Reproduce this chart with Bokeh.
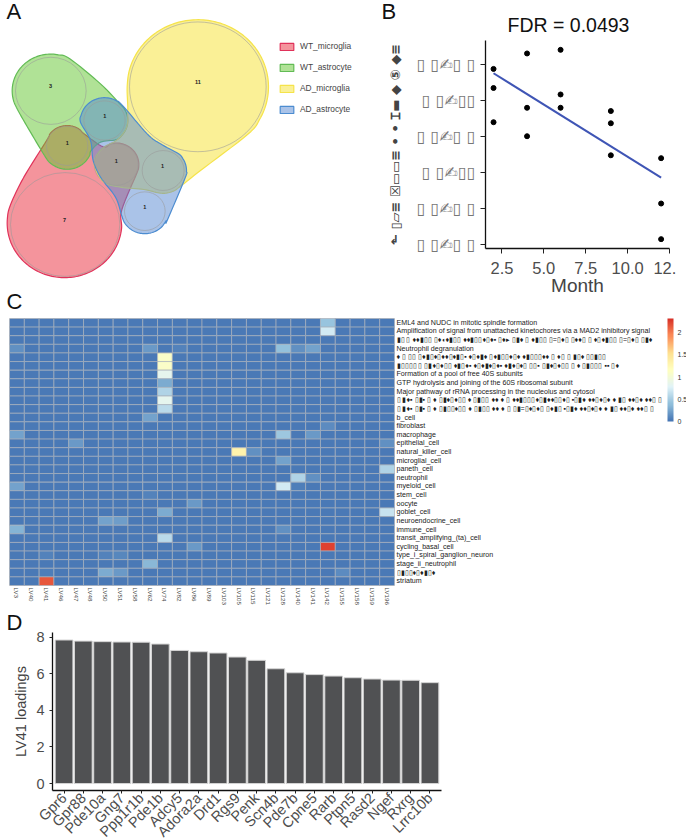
from math import pi, cos, sin, radians
from bokeh.plotting import figure
from bokeh.layouts import column, row
from bokeh.models import (ColumnDataSource, Label, Legend, LegendItem, LinearColorMapper, ColorBar,
                          FactorRange, Range1d, FixedTicker, Title)
from bokeh.core.properties import value
from bokeh.transform import transform
from bokeh.embed import file_html
from bokeh.resources import INLINE

FONT = "Liberation Sans"
SQUASH = 0.95

def arc(cx, cy, rx, a0, a1, n=9):
    return [(cx + rx * cos(radians(a0 + (a1 - a0) * i / n)), cy + SQUASH * rx * sin(radians(a0 + (a1 - a0) * i / n))) for i in range(n + 1)]

# ---------- Panel A: overlap diagram ----------
set_names = ["WT_microglia", "WT_astrocyte", "AD_microglia", "AD_astrocyte"]
set_fill = ["#e92939", "#61c52d", "#f5e12d", "#5587d1"]
set_line = ["#e0325a", "#62bb55", "#f5e34a", "#4c8cd0"]
outline_red = arc(192, 668, 172, -10, 200, 14) + [(70, 530)] + arc(200, 436, 64, 195, 325, 6) + arc(347, 492, 68, 235, 385, 7) + [(378, 590)]
outline_green = arc(151, 271, 116, 150, 300, 8) + [(300, 250)] + arc(312, 360, 70, -50, 60, 6) + [(300, 425), (272, 450)] + arc(200, 436, 74, 25, 150, 6) + [(90, 395)]
outline_yellow = arc(592, 259, 212, 180, 405, 14) + [(600, 510), (552, 548)] + arc(488, 510, 72, 40, 100, 3) + [(430, 567), (360, 560), (310, 545), (283, 500), (285, 470), (310, 440), (350, 418), (378, 380), (382, 330)]
outline_blue = arc(312, 360, 72, 175, 320, 7) + [(440, 400), (480, 430)] + arc(488, 510, 70, -50, 20, 4) + [(500, 660)] + arc(433, 632, 71, 25, 170, 7) + [(345, 590), (300, 530), (278, 480), (270, 420)]
circle_x = [194, 151, 312, 200, 347, 488, 433, 592]
circle_y = [672, 271, 360, 436, 492, 510, 632, 259]
circle_r = [164, 106, 62, 62, 66, 63, 61, 205]
label_x = [192, 150, 313, 200, 347, 486, 433, 592]
label_y = [657, 257, 345, 428, 480, 495, 618, 245]
circle_n = ["7", "3", "1", "1", "1", "1", "1", "11"]

def smooth(pts, n=8):
    xs, ys = [], []
    m = len(pts)
    for i in range(m):
        p0, p1, p2, p3 = pts[i-1], pts[i], pts[(i+1) % m], pts[(i+2) % m]
        for k in range(n):
            t = k / n
            for arr, d in ((xs, 0), (ys, 1)):
                arr.append(0.5 * (2*p1[d] + (p2[d]-p0[d])*t + (2*p0[d]-5*p1[d]+4*p2[d]-p3[d])*t*t + (3*p1[d]-p0[d]-3*p2[d]+p3[d])*t**3))
    return xs, ys

pa = figure(frame_width=400, frame_height=640, x_range=Range1d(0, 1200), y_range=Range1d(1920, 0), output_backend="svg",
            toolbar_location=None, min_border=0, outline_line_color=None, border_fill_color=None, background_fill_color=None)
pa.axis.visible = False
pa.grid.visible = False
items = []
for name, f, l, o in zip(set_names, set_fill, set_line, [outline_red, outline_green, outline_yellow, outline_blue]):
    xs, ys = smooth(o)
    r = pa.patch(xs, ys, fill_color=f, fill_alpha=0.5, line_color=l, line_width=1.2)
    items.append(LegendItem(label=name, renderers=[r]))
pa.ellipse(circle_x, circle_y, width=[2 * v for v in circle_r], height=[2 * SQUASH * v for v in circle_r],
           fill_color=None, line_color="#999999", line_alpha=0.7, line_width=0.8)
pa.text(label_x, label_y, text=circle_n, text_font=value(FONT), text_font_size="5.5px", text_font_style="bold",
        text_align="center", text_baseline="middle", text_color="#222222")
leg = Legend(items=items, location=(278, 526), glyph_width=17, glyph_height=9, label_height=9, spacing=11,
             label_standoff=5, padding=0, margin=0, background_fill_alpha=0, border_line_color=None,
             label_text_font=FONT, label_text_font_size="8.4px", label_text_color="#444444")
pa.add_layout(leg)

# panel letters all sit in the first frame, which runs under the other panels
panel_letters = ["A", "B", "C", "D"]
letter_x = [18, 1143, 18, 18]
letter_y = [33, 33, 903, 1866]
for letter, x, y in zip(panel_letters, letter_x, letter_y):
    pa.add_layout(Label(x=x, y=y, text=letter, text_font=FONT, text_font_size="22px", text_color="#111111",
                        text_baseline="alphabetic"))

# ---------- Panel B: regression ----------
month = [2, 2, 2, 4, 4, 4, 6, 6, 6, 9, 9, 9, 12, 12, 12]
score = [4.88, 4.35, 3.40, 5.31, 3.80, 3.01, 5.41, 4.17, 3.80, 3.71, 3.37, 2.48, 2.40, 1.14, 0.15]
fit_month = [2, 12]
fit_score = [4.76, 1.86]
b_ticks = [0, 1, 2, 3, 4, 5]
b_tick_labels = ["▯ ▯✍▯ ▯", "▯ ▯✍▯ ▯", "▯ ▯✍▯▯", "▯ ▯✍▯ ▯", "▯ ▯✍▯▯", "▯ ▯✍▯ ▯"]
b_ylabel = "⬑ ▯▱≡ ☒▭▭≡ • • ⌶▬ ◆ ⑤ ◆≡"

pb = figure(frame_width=184, frame_height=208, x_range=Range1d(1.52, 12.5), y_range=Range1d(-0.11, 5.67),
            output_backend="svg", toolbar_location=None, outline_line_color=None, border_fill_color=None,
            background_fill_color=None, min_border_left=125, min_border_right=17, min_border_top=40, min_border_bottom=52)
pb.grid.visible = False
pb.scatter(month, score, size=5, color="black")
pb.line(fit_month, fit_score, line_color="#3f55b5", line_width=2)
pb.xaxis.ticker = FixedTicker(ticks=[2.5, 5, 7.5, 10, 12.5])
pb.xaxis.major_label_overrides = {2.5: "2.5", 5: "5.0", 7.5: "7.5", 10: "10.0", 12.5: "12.\u00a0\u00a0"}
pb.yaxis.ticker = FixedTicker(ticks=b_ticks)
pb.yaxis.major_label_overrides = dict(zip(b_ticks, b_tick_labels))
pb.yaxis.major_label_text_font = "DejaVu Sans"
pb.yaxis.major_label_text_font_size = "16px"
pb.yaxis.major_label_text_color = "#777777"
pb.xaxis.major_label_text_font = FONT
pb.xaxis.major_label_text_font_size = "16.5px"
pb.xaxis.major_label_text_color = "#4d4d4d"
pb.xaxis.major_label_standoff = 5
pb.axis.axis_line_width = 1.3
pb.axis.axis_line_color = "#111111"
pb.axis.major_tick_line_color = "#222222"
pb.axis.major_tick_out = 5
pb.axis.major_tick_in = 0
pb.axis.minor_tick_line_color = None
pb.xaxis.axis_label = "Month"
pb.xaxis.axis_label_text_font = FONT
pb.xaxis.axis_label_text_font_style = "normal"
pb.xaxis.axis_label_text_font_size = "19px"
pb.xaxis.axis_label_standoff = -5
pb.yaxis.axis_label = b_ylabel
pb.yaxis.axis_label_text_font = "DejaVu Sans"
pb.yaxis.axis_label_text_font_style = "bold"
pb.yaxis.axis_label_text_font_size = "13px"
pb.yaxis.axis_label_standoff = 11
pb.add_layout(Title(text="FDR = 0.0493", align="left", offset=22, text_font=FONT, text_font_style="normal",
                    text_font_size="19.5px", text_color="#111111"), "above")

# ---------- Panel C: heat map ----------
lv_names = ["LV3","LV40","LV41","LV46","LV47","LV48","LV50","LV51","LV58","LV62","LV74","LV82","LV86","LV89",
            "LV103","LV105","LV115","LV121","LV128","LV140","LV141","LV142","LV155","LV158","LV159","LV196"]
row_names = [
    "EML4 and NUDC in mitotic spindle formation",
    "Amplification  of signal from unattached  kinetochores via a MAD2  inhibitory signal",
    "▮▯ ▯ ♦♦▮▯▯ ▯♦◖♦▮▯▯ ♦♦▮▯▯♦▯♦▪ ▯♦▸ ▯▮♦ ▯ ♦▮▯▯ ▯=▯♦▯ ▯♦♦▯ ▯ ♦▯♦▮▯▯ ▯=▯♦▯ ▯▮♦",
    "Neutrophil degranulation",
    "♦ ▯ ▯▯ ▯♦▮▯♦▯♦♦▯♦▮▯▪ ♦▯♦▮♦ ▯♦▮▯▯♦▯♦ ♦▮▯▯▯♦♦ ▯ ♦▯ ▯ ▮▯♦ ▯▯▮▯▯",
    "▮▯▯▯▯ ▯ ▯▮♦▯♦▯▯ ♦▮▯♦▪ ♦▯♦▮♦▯♦▪ ♦▮♦▯♦▯ ▯▯▪ ▯▮♦▯♦▯▯ ▯ ♦ ▯▮▯▯▯ ▪▪ ▯♦",
    "Formation of a pool of free 40S subunits",
    "GTP hydrolysis and joining of the 60S ribosomal subunit",
    "Major pathway of rRNA processing in the nucleolus and cytosol",
    "▯ ▮♦▪ ▯▮▪ ▯ ♦ ▯▮♦▯♦▯▯ ♦ ▯▮▯▯ ♦♦ ♦ ▯ ♦♦▮▯▯▯♦▯▮♦♦▯▯♦▯ ▪▯▮♦ ♦♦▯♦▯♦ ♦ ▮▯ ♦♦▯♦ ♦♦▯ ▯",
    "▯ ▮♦▪ ▯▮▪ ▯ ♦ ▯▮▯▯♦▯▯ ♦ ▯▮▯▯ ♦♦ ♦ ▯ ▯▮=▯♦▯♦▯ ▯♦▮▯ ▪▯▮♦ ♦♦▯♦▯♦ ♦ ▮▯ ♦♦▯♦ ♦♦▯ ▯",
    "b_cell", "fibroblast", "macrophage", "epithelial_cell", "natural_killer_cell", "microglial_cell",
    "paneth_cell", "neutrophil", "myeloid_cell", "stem_cell", "oocyte", "goblet_cell", "neuroendocrine_cell",
    "immune_cell", "transit_amplifying_(ta)_cell", "cycling_basal_cell", "type_i_spiral_ganglion_neuron",
    "stage_ii_neutrophil", "▯▮▯▯♦▯♦▮▯♦", "striatum"]
heat_base = 0.03
hot_row = [0,1,3,3,3,3,3,3,4,5,6,7,8,9,10,11,12,13,13,13,14,14,15,15,16,17,18,18,19,19,19,20,21,22,22,23,23,24,24,25,26,26,27,27,27,28,29,29,29,29,30]
hot_col = [21,21,0,9,11,18,19,20,10,10,10,10,10,10,10,9,21,0,18,20,4,25,15,16,18,25,19,20,0,18,19,9,12,10,25,6,7,0,18,10,12,21,2,6,7,9,6,7,2,22,2]
hot_val = [0.42,0.70,0.14,0.20,0.08,0.40,0.15,0.25,1.10,1.10,0.85,0.30,0.55,0.85,0.60,0.25,0.12,0.25,0.45,0.20,0.20,0.15,1.30,0.15,0.25,0.55,0.55,0.15,0.25,0.70,0.06,0.08,0.20,0.28,0.65,0.25,0.22,0.33,0.15,0.60,0.20,2.25,0.08,0.08,0.10,0.35,0.30,0.20,0.06,0.12,2.15]
palette_stops = ["#4575B4","#91BFDB","#E0F3F8","#FFFFBF","#FEE090","#FC8D59","#D73027"]

def ramp(stops, n=100):
    rgb = [tuple(int(s[i:i+2], 16) for i in (1, 3, 5)) for s in stops]
    out = []
    for k in range(n):
        t = k / (n - 1) * (len(rgb) - 1)
        i = min(int(t), len(rgb) - 2)
        f = t - i
        out.append("#%02x%02x%02x" % tuple(round(rgb[i][c] + (rgb[i+1][c] - rgb[i][c]) * f) for c in range(3)))
    return out

cells = {(r, c): heat_base for r in range(len(row_names)) for c in range(len(lv_names))}
for r, c, v in zip(hot_row, hot_col, hot_val):
    cells[(r, c)] = v
src = ColumnDataSource(dict(lv=[lv_names[c] for r, c in cells], name=[row_names[r] for r, c in cells], v=list(cells.values())))
mapper = LinearColorMapper(palette=ramp(palette_stops), low=0, high=2.32)

pc = figure(frame_width=385, frame_height=267, x_range=FactorRange(factors=lv_names), y_range=FactorRange(factors=row_names[::-1]),
            y_axis_location="right", output_backend="svg", toolbar_location=None, outline_line_color="#c8c8c8", border_fill_color=None,
            min_border_left=9, min_border_right=292, min_border_top=30, min_border_bottom=15)
pc.grid.visible = False
pc.rect("lv", "name", 1, 1, source=src, fill_color=transform("v", mapper), line_color="#a8b0bc", line_width=0.7)
pc.axis.axis_line_color = None
pc.axis.major_tick_line_color = None
pc.axis.major_tick_out = 0
pc.axis.major_tick_in = 0
pc.axis.minor_tick_line_color = None
pc.axis.major_label_text_font = FONT
pc.axis.major_label_standoff = 2
pc.xaxis.major_label_orientation = -pi / 2
pc.xaxis.major_label_text_font_size = "6.2px"
pc.xaxis.major_label_text_color = "#444444"
pc.yaxis.major_label_text_font_size = "7.1px"
pc.yaxis.major_label_text_color = "#222222"
cb = ColorBar(color_mapper=mapper, location=(658, 164), width=6, height=103, padding=0, margin=0,
              ticker=FixedTicker(ticks=[0, 0.5, 1, 1.5, 2]), major_label_overrides={0: "0", 0.5: "0.5", 1: "1", 1.5: "1.5", 2: "2"},
              major_tick_line_color=None, major_label_text_font=FONT, major_label_text_font_size="7px",
              major_label_text_color="#333333", label_standoff=4, background_fill_alpha=0, bar_line_color=None)
pc.add_layout(cb)

# ---------- Panel D: loadings ----------
genes = ["Gpr6","Gpr88","Pde10a","Gng7","Ppp1r1b","Pde1b","Adcy5","Adora2a","Drd1","Rgs9","Penk","Scn4b","Pde7b",
         "Cpne5","Rarb","Ptpn5","Rasd2","Ngef","Rxrg","Lrrc10b"]
loadings = [7.84,7.78,7.75,7.73,7.72,7.62,7.27,7.20,7.13,6.91,6.73,6.27,6.05,5.95,5.87,5.78,5.71,5.65,5.64,5.51]

pd_ = figure(frame_width=389, frame_height=158, x_range=FactorRange(factors=genes, range_padding=0.1, range_padding_units="absolute", factor_padding=0),
             y_range=Range1d(-0.38, 8.25), output_backend="svg", toolbar_location=None, outline_line_color=None, border_fill_color=None,
             min_border_left=52, min_border_right=245, min_border_top=26, min_border_bottom=48)
pd_.grid.visible = False
pd_.vbar(x=genes, top=loadings, width=0.92, bottom=0, fill_color="#505153", line_color="#d4d4d4", line_width=1)
pd_.yaxis.ticker = FixedTicker(ticks=[0, 2, 4, 6, 8])
pd_.axis.axis_line_width = 1.3
pd_.axis.axis_line_color = "#111111"
pd_.axis.major_tick_line_color = "#222222"
pd_.axis.major_tick_out = 3
pd_.axis.major_tick_in = 0
pd_.axis.minor_tick_line_color = None
pd_.axis.major_label_text_font = FONT
pd_.axis.major_label_text_font_size = "14.5px"
pd_.axis.major_label_text_color = "#4d4d4d"
pd_.xaxis.major_label_orientation = pi / 4
pd_.xaxis.major_label_standoff = 2
pd_.yaxis.axis_label = "LV41 loadings"
pd_.yaxis.axis_label_text_font = FONT
pd_.yaxis.axis_label_text_font_style = "normal"
pd_.yaxis.axis_label_text_font_size = "14.5px"
pd_.yaxis.axis_label_standoff = 4

page = column(row(column(pa, margin=0), column(pb, margin=(0, 0, 0, -40)), spacing=0, margin=0),
              column(pc, margin=(-352, 0, 0, 0)), column(pd_, margin=(-1, 0, 0, 0)), spacing=0)
open("out.html", "w").write(file_html(page, INLINE))
